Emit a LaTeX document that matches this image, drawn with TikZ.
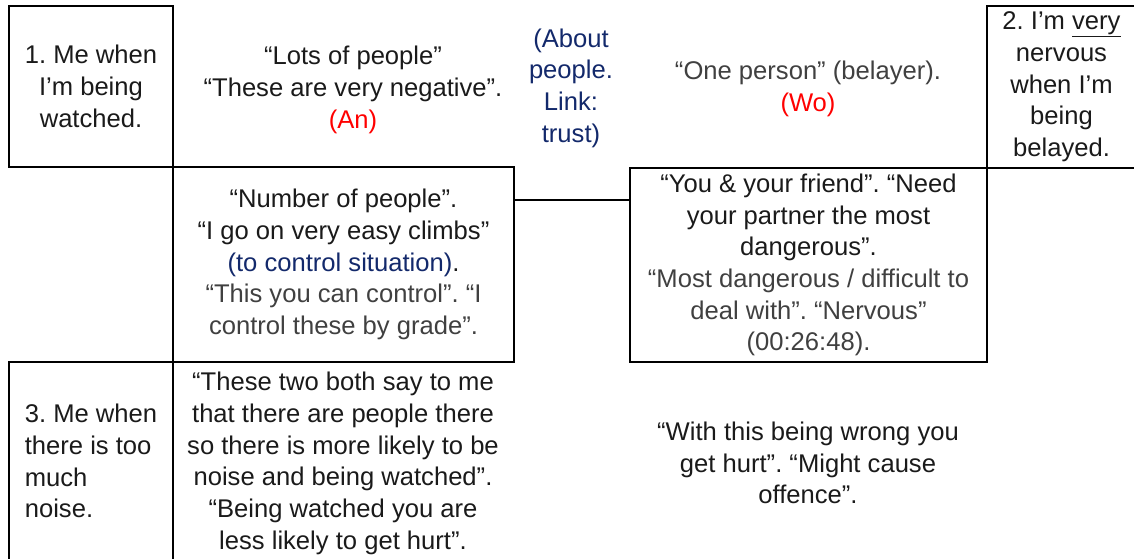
\documentclass[tikz,border=0pt]{standalone}
\usepackage{fontspec}
\setmainfont{Liberation Sans}
\usetikzlibrary{positioning}
\definecolor{ink}{HTML}{1A1A1A}
\definecolor{quote}{HTML}{404040}
\definecolor{note}{HTML}{13296B}
\definecolor{code}{HTML}{FF0000}
\frenchspacing

\begin{document}
\begin{tikzpicture}[x=1pt,y=-1pt,every node/.style={align=center,text=ink,inner sep=0pt,font=\fontsize{25.6}{31.7}\selectfont},cell/.style={draw,line width=2.4pt},link/.style={line width=2.4pt}]
\useasboundingbox (0,0) rectangle (1134,558);
% left column: the three situations
\node[cell,minimum width=164,minimum height=161](watched) at (91,86.5) {1. Me when\\I’m being\\watched.};
\node[cell,minimum width=164,minimum height=198,align=left](noise) at (91,461) {3. Me when\\there is too\\much\\noise.};
\node[cell,minimum width=149,minimum height=162](belayed) at (1061.5,87) {2. I’m \underline{very}\\nervous\\when I’m\\being\\belayed.};
% boxed quotes
\node[cell,minimum width=341,minimum height=195](number) at (343.5,264.5) {“Number of people”.\\“I go on very easy climbs”\\{\color{note}(to control situation)}.\\{\color{quote}“This you can control”. “I}\\{\color{quote}control these by grade”.}};
\node[cell,minimum width=357,minimum height=194](friend) at (808.5,265) {“You \& your friend”. “Need\\your partner the most\\dangerous”.\\{\color{quote}“Most dangerous / difficult to}\\{\color{quote}deal with”. “Nervous”}\\{\color{quote}(00:26:48).}};
\draw[link] ([yshift=-34pt]number.north east) -- ([yshift=-33pt]friend.north west);
% free quotes
\node(lots) at (353,90) {“Lots of people”\\“These are very negative”.\\{\color{code}(An)}};
\node[text=note](about) at (571,88) {(About\\people.\\Link:\\trust)};
\node(person) at (808,89) {{\color{quote}“One person” (belayer).}\\{\color{code}(Wo)}};
\node(both) at (343,463.5) {“These two both say to me\\that there are people there\\so there is more likely to be\\noise and being watched”.\\“Being watched you are\\less likely to get hurt”.};
\node(wrong) at (808,463) {“With this being wrong you\\get hurt”. “Might cause\\offence”.};
\end{tikzpicture}
\end{document}
